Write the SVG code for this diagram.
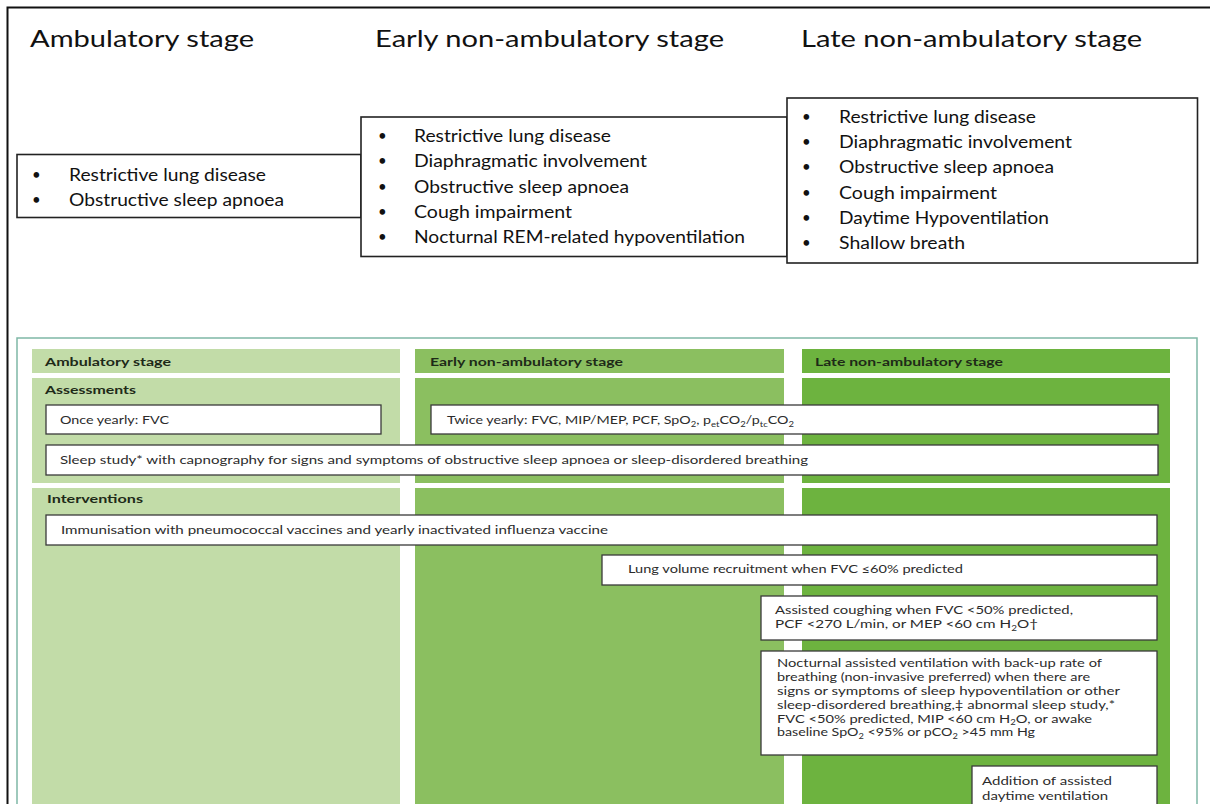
<svg xmlns="http://www.w3.org/2000/svg" width="1210" height="804" viewBox="0 0 1210 804">
<style>
.title{font-family:Lato,"Liberation Sans",sans-serif;font-size:24px;fill:#111}
.li{font-family:Lato,"Liberation Sans",sans-serif;font-size:17px;fill:#111}
.bu{font-family:Lato,"Liberation Sans",sans-serif;font-size:15px;fill:#111}
.tb{fill:#fff;stroke:#222;stroke-width:1.6}
.hd{font-family:Lato,"Liberation Sans",sans-serif;font-size:12px;font-weight:bold;fill:#1e2a18}
.bx{fill:#fff;stroke:#3a3a3a;stroke-width:1.3}
.bt{font-family:Lato,"Liberation Sans",sans-serif;font-size:12px;fill:#2b2b2b}
.bm{font-family:Lato,"Liberation Sans",sans-serif;font-size:11.5px;fill:#2b2b2b}
.c1{fill:#c2dca8}
.c2{fill:#8bbf60}
.c3{fill:#6db33f}
</style>
<rect width="1210" height="804" fill="#fff"/>
<path d="M1210 7.5H7.5V804" fill="none" stroke="#111" stroke-width="2"/>

<g id="title-ambulatory"><text class="title" x="30" y="47" textLength="224" lengthAdjust="spacingAndGlyphs">Ambulatory stage</text></g>
<g id="title-early"><text class="title" x="375" y="47" textLength="349" lengthAdjust="spacingAndGlyphs">Early non-ambulatory stage</text></g>
<g id="title-late"><text class="title" x="801" y="47" textLength="341" lengthAdjust="spacingAndGlyphs">Late non-ambulatory stage</text></g>

<g id="box-ambulatory">
<rect class="tb" x="17" y="154.5" width="344" height="63"/>
<text class="bu" x="32" y="180">•</text>
<text class="bu" x="32" y="205">•</text>
<text class="li" x="69" y="181" textLength="197" lengthAdjust="spacingAndGlyphs">Restrictive lung disease</text>
<text class="li" x="69" y="206" textLength="215" lengthAdjust="spacingAndGlyphs">Obstructive sleep apnoea</text>
</g>
<g id="box-early">
<rect class="tb" x="361" y="117" width="426" height="139.5"/>
<text class="bu" x="378" y="141">•</text>
<text class="bu" x="378" y="166.3">•</text>
<text class="bu" x="378" y="191.5">•</text>
<text class="bu" x="378" y="216.8">•</text>
<text class="bu" x="378" y="242">•</text>
<text class="li" x="414" y="142" textLength="197" lengthAdjust="spacingAndGlyphs">Restrictive lung disease</text>
<text class="li" x="414" y="167.3" textLength="233" lengthAdjust="spacingAndGlyphs">Diaphragmatic involvement</text>
<text class="li" x="414" y="192.5" textLength="215" lengthAdjust="spacingAndGlyphs">Obstructive sleep apnoea</text>
<text class="li" x="414" y="217.8" textLength="158" lengthAdjust="spacingAndGlyphs">Cough impairment</text>
<text class="li" x="414" y="243" textLength="331" lengthAdjust="spacingAndGlyphs">Nocturnal REM-related hypoventilation</text>
</g>
<g id="box-late">
<rect class="tb" x="787" y="98" width="410.5" height="165"/>
<text class="bu" x="802" y="122">•</text>
<text class="bu" x="802" y="147.2">•</text>
<text class="bu" x="802" y="172.4">•</text>
<text class="bu" x="802" y="197.6">•</text>
<text class="bu" x="802" y="222.8">•</text>
<text class="bu" x="802" y="248">•</text>
<text class="li" x="839" y="123" textLength="197" lengthAdjust="spacingAndGlyphs">Restrictive lung disease</text>
<text class="li" x="839" y="148.2" textLength="233" lengthAdjust="spacingAndGlyphs">Diaphragmatic involvement</text>
<text class="li" x="839" y="173.4" textLength="215" lengthAdjust="spacingAndGlyphs">Obstructive sleep apnoea</text>
<text class="li" x="839" y="198.6" textLength="158" lengthAdjust="spacingAndGlyphs">Cough impairment</text>
<text class="li" x="839" y="223.8" textLength="210" lengthAdjust="spacingAndGlyphs">Daytime Hypoventilation</text>
<text class="li" x="839" y="249" textLength="126" lengthAdjust="spacingAndGlyphs">Shallow breath</text>
</g>

<g id="panel">
<path d="M17 804V338H1197V804" fill="none" stroke="#7fb8a6" stroke-width="1.5"/>
<rect class="c1" x="32" y="349" width="368" height="24"/>
<rect class="c2" x="415" y="349" width="369" height="24"/>
<rect class="c3" x="802" y="349" width="368" height="24"/>
<rect class="c1" x="32" y="378" width="368" height="105"/>
<rect class="c2" x="415" y="378" width="369" height="105"/>
<rect class="c3" x="802" y="378" width="368" height="105"/>
<rect class="c1" x="32" y="488" width="368" height="320"/>
<rect class="c2" x="415" y="488" width="369" height="320"/>
<rect class="c3" x="802" y="488" width="368" height="320"/>
<text class="hd" x="45" y="366" textLength="126" lengthAdjust="spacingAndGlyphs">Ambulatory stage</text>
<text class="hd" x="430" y="366" textLength="193" lengthAdjust="spacingAndGlyphs">Early non-ambulatory stage</text>
<text class="hd" x="815" y="366" textLength="188" lengthAdjust="spacingAndGlyphs">Late non-ambulatory stage</text>
<text class="hd" x="45" y="394" textLength="91" lengthAdjust="spacingAndGlyphs">Assessments</text>
<text class="hd" x="47" y="503" textLength="96" lengthAdjust="spacingAndGlyphs">Interventions</text>
</g>

<g id="once-yearly">
<rect class="bx" x="46" y="405" width="335" height="29"/>
<text class="bt" x="60" y="424" textLength="109" lengthAdjust="spacingAndGlyphs">Once yearly: FVC</text>
</g>
<g id="twice-yearly">
<rect class="bx" x="431" y="405" width="727" height="29"/>
<text class="bt" x="447" y="424" textLength="347" lengthAdjust="spacingAndGlyphs">Twice yearly: FVC, MIP/MEP, PCF, SpO<tspan font-size="8" dy="2.5">2</tspan><tspan dy="-2.5">, p</tspan><tspan font-size="8" dy="2.5">et</tspan><tspan dy="-2.5">CO</tspan><tspan font-size="8" dy="2.5">2</tspan><tspan dy="-2.5">/p</tspan><tspan font-size="8" dy="2.5">tc</tspan><tspan dy="-2.5">CO</tspan><tspan font-size="8" dy="2.5">2</tspan></text>
</g>
<g id="sleep-study">
<rect class="bx" x="46" y="445" width="1112" height="30"/>
<text class="bt" x="60" y="464" textLength="748" lengthAdjust="spacingAndGlyphs">Sleep study* with capnography for signs and symptoms of obstructive sleep apnoea or sleep-disordered breathing</text>
</g>
<g id="immunisation">
<rect class="bx" x="46" y="515" width="1111" height="30"/>
<text class="bt" x="61" y="534" textLength="547" lengthAdjust="spacingAndGlyphs">Immunisation with pneumococcal vaccines and yearly inactivated influenza vaccine</text>
</g>
<g id="lung-volume">
<rect class="bx" x="602" y="555" width="555" height="30"/>
<text class="bt" x="628" y="573" textLength="335" lengthAdjust="spacingAndGlyphs">Lung volume recruitment when FVC ≤60% predicted</text>
</g>
<g id="assisted-coughing">
<rect class="bx" x="761" y="596" width="396" height="44"/>
<text class="bm" x="775" y="614" textLength="298" lengthAdjust="spacingAndGlyphs">Assisted coughing when FVC &lt;50% predicted,</text>
<text class="bm" x="775" y="628" textLength="263" lengthAdjust="spacingAndGlyphs">PCF &lt;270 L/min, or MEP &lt;60 cm H<tspan font-size="7.5" dy="2.5">2</tspan><tspan dy="-2.5">O†</tspan></text>
</g>
<g id="nocturnal-ventilation">
<rect class="bx" x="761" y="651" width="396" height="104"/>
<text class="bm" x="777" y="667" textLength="325" lengthAdjust="spacingAndGlyphs">Nocturnal assisted ventilation with back-up rate of</text>
<text class="bm" x="777" y="681" textLength="313" lengthAdjust="spacingAndGlyphs">breathing (non-invasive preferred) when there are</text>
<text class="bm" x="777" y="695" textLength="343" lengthAdjust="spacingAndGlyphs">signs or symptoms of sleep hypoventilation or other</text>
<text class="bm" x="777" y="708.8" textLength="338" lengthAdjust="spacingAndGlyphs">sleep-disordered breathing,‡ abnormal sleep study,*</text>
<text class="bm" x="777" y="722.6" textLength="315" lengthAdjust="spacingAndGlyphs">FVC &lt;50% predicted, MIP &lt;60 cm H<tspan font-size="7.5" dy="2.5">2</tspan><tspan dy="-2.5">O, or awake</tspan></text>
<text class="bm" x="777" y="736.4" textLength="258" lengthAdjust="spacingAndGlyphs">baseline SpO<tspan font-size="7.5" dy="2.5">2</tspan><tspan dy="-2.5"> &lt;95% or pCO</tspan><tspan font-size="7.5" dy="2.5">2</tspan><tspan dy="-2.5"> &gt;45 mm Hg</tspan></text>
</g>
<g id="daytime-ventilation">
<rect class="bx" x="972" y="766" width="185" height="50"/>
<text class="bm" x="982" y="785" textLength="130" lengthAdjust="spacingAndGlyphs">Addition of assisted</text>
<text class="bm" x="982" y="800" textLength="126" lengthAdjust="spacingAndGlyphs">daytime ventilation</text>
</g>
<g id="connectors"></g>
</svg>
